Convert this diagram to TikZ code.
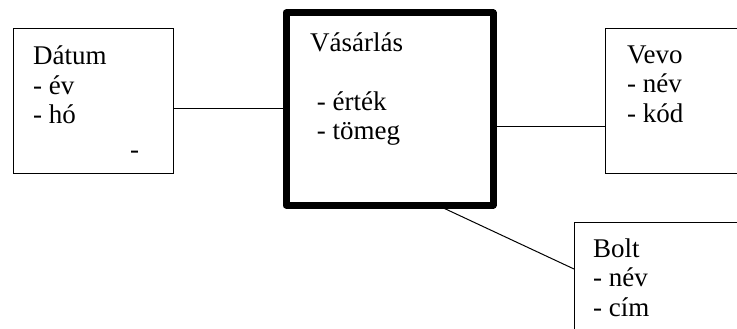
\documentclass[tikz,border=0pt]{standalone}
\usepackage{fontspec}
\setmainfont{Liberation Serif}
\usetikzlibrary{positioning}

\begin{document}
\begin{tikzpicture}[x=1pt,y=-1pt,
  entity/.style={draw,line width=1pt,inner sep=0pt,outer sep=0pt,anchor=north west},
  fact/.style={entity,line width=7pt,line join=round},
  attrs/.style={align=left,inner sep=0pt,anchor=base west},
  link/.style={line width=1pt},
  % font=\large,
  font=\fontsize{27}{29.5}\selectfont]
\useasboundingbox (0,0) rectangle (737,329);
\clip (0,0) rectangle (737,329);
\node (datum) [entity,minimum width=160pt,minimum height=144pt] at (13,29) {};
\node (vasarlas) [fact,minimum width=207pt,minimum height=192pt] at (286,13) {};
\node (vevo) [entity,minimum width=200pt,minimum height=144pt] at (605,29) {};
\node (bolt) [entity,minimum width=200pt,minimum height=200pt] at (574,222) {};
\node (datumtext) [attrs] at (33,124) {Dátum\\- év\\- hó};
\node (datumdash) [attrs] at (130,158) {-};
\node (vasarlastext) [attrs] at (310,139.5) {Vásárlás\\[29.5pt]\ - érték\\\ - tömeg};
\node (vevotext) [attrs] at (627,122) {Vevo\\- név\\- kód};
\node (bolttext) [attrs] at (593,316) {Bolt\\- név\\- cím};
\draw[link] (datum.east |- vasarlas.west) -- (vasarlas.west);
\draw[link] ([yshift=-17pt]vasarlas.east) -- ([yshift=-25pt]vevo.west);
\draw[link] ([xshift=47.5pt]vasarlas.south) -- ([yshift=53pt]bolt.west);
\end{tikzpicture}
\end{document}
